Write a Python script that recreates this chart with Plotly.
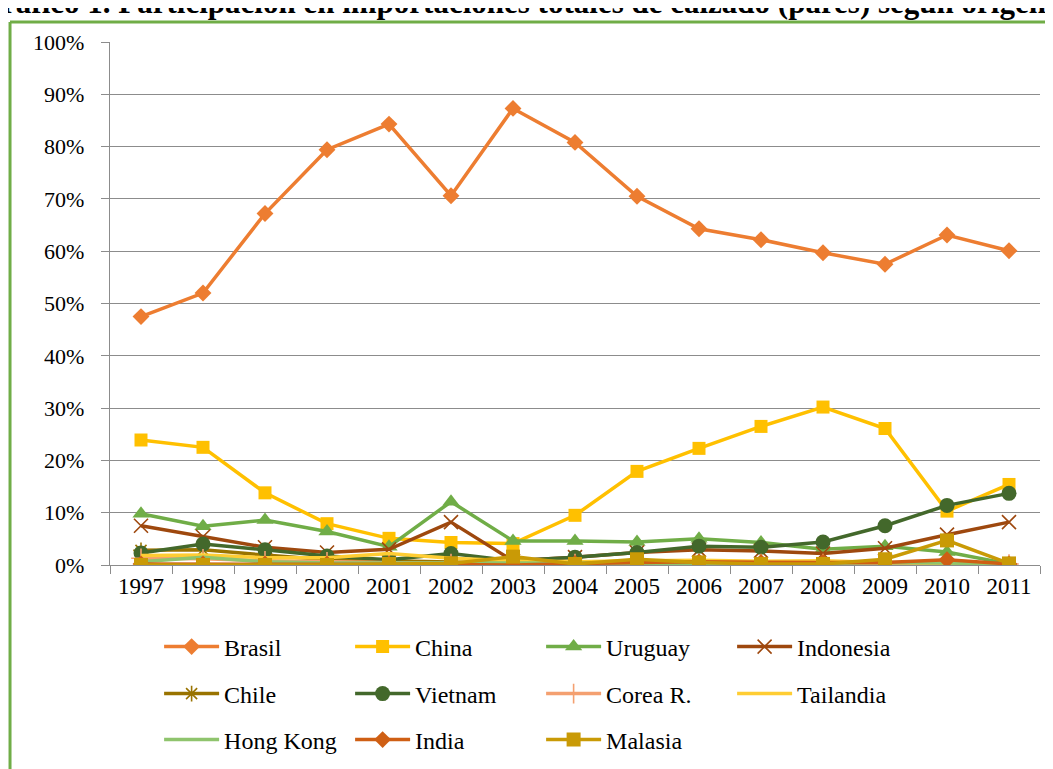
import plotly.graph_objects as go

years = [str(y) for y in range(1997, 2012)]

brasil = [47.5, 52.0, 67.2, 79.4, 84.3, 70.6, 87.3, 80.8, 70.5, 64.3, 62.2, 59.7, 57.5, 63.1, 60.1]
china = [23.9, 22.5, 13.8, 7.9, 5.1, 4.3, 4.1, 9.5, 17.9, 22.3, 26.5, 30.2, 26.1, 10.3, 15.4]
uruguay = [9.8, 7.4, 8.6, 6.4, 3.5, 12.1, 4.6, 4.6, 4.4, 5.0, 4.3, 3.0, 3.6, 2.5, 0.2]
indonesia = [7.5, 5.4, 3.4, 2.4, 3.0, 8.2, 0.8, 1.5, 2.4, 2.9, 2.7, 2.2, 3.2, 5.8, 8.2]
chile = [2.8, 2.9, 1.9, 1.0, 0.8, 0.5, 0.3, 0.3, 0.2, 0.2, 0.2, 0.2, 0.2, 0.2, 0.2]
vietnam = [2.3, 4.0, 2.9, 1.7, 1.0, 2.2, 0.8, 1.5, 2.4, 3.6, 3.4, 4.4, 7.5, 11.4, 13.7]
corea = [1.3, 1.2, 0.8, 0.6, 0.5, 0.3, 0.2, 0.3, 0.3, 0.3, 0.3, 0.3, 0.3, 0.3, 0.2]
tailandia = [1.8, 1.9, 1.4, 1.4, 2.2, 1.3, 0.8, 0.6, 0.8, 0.9, 0.7, 0.8, 0.5, 0.3, 0.2]
hongkong = [0.6, 1.5, 0.6, 0.4, 0.4, 0.4, 0.4, 0.3, 0.3, 0.3, 0.3, 0.3, 0.5, 0.4, 0.1]
india = [0.2, 0.2, 0.2, 0.2, 0.2, 0.1, 0.0, 0.3, 0.5, 0.6, 0.5, 0.5, 0.5, 1.0, 0.2]
malasia = [0.0, 0.0, 0.0, 0.0, 0.2, 0.3, 1.6, 0.2, 1.1, 0.5, 0.2, 0.2, 1.1, 4.7, 0.3]

title_text = "Gráfico 1. Participación en importaciones totales de calzado (pares) según origen"

FONT = "Liberation Serif"
series = [
    # name, values, color, symbol, size, legend
    ("Brasil", brasil, "#ED7D31", "diamond", 13, "legend"),
    ("China", china, "#FFC000", "square", 13, "legend"),
    ("Uruguay", uruguay, "#70AD47", "triangle-up", 15, "legend"),
    ("Indonesia", indonesia, "#9E480E", "x-thin", 14, "legend"),
    ("Chile", chile, "#997300", "asterisk", 13, "legend2"),
    ("Vietnam", vietnam, "#43682B", "circle", 15, "legend2"),
    ("Corea R.", corea, "#F4A070", "cross-thin", 14, "legend2"),
    ("Tailandia", tailandia, "#FFCD33", None, 0, "legend2"),
    ("Hong Kong", hongkong, "#8FC46D", None, 0, "legend3"),
    ("India", india, "#CF5F14", "diamond", 13, "legend3"),
    ("Malasia", malasia, "#C99A06", "square", 14, "legend3"),
]

fig = go.Figure()
for name, vals, color, sym, size, leg in series:
    if sym is None:
        mode = "lines"
        marker = dict()
    else:
        mode = "lines+markers"
        if sym in ("x-thin", "asterisk", "cross-thin"):
            marker = dict(symbol=sym, size=size, color=color,
                          line=dict(color=color, width=1.6))
        else:
            marker = dict(symbol=sym, size=size, color=color, line=dict(width=0))
    fig.add_trace(go.Scatter(
        x=years, y=vals, name=name, mode=mode,
        line=dict(color=color, width=3.5),
        marker=marker, legend=leg,
    ))

leg_common = dict(orientation="h", xref="container", yref="container",
                  xanchor="left", x=0.1435, yanchor="middle",
                  entrywidth=121, entrywidthmode="pixels",
                  font=dict(family=FONT, size=24, color="#000000"),
                  bgcolor="rgba(0,0,0,0)", itemwidth=55, traceorder="normal")

fig.update_layout(
    width=1053, height=769,
    margin=dict(l=102, r=21, t=34, b=212, autoexpand=False),
    paper_bgcolor="white", plot_bgcolor="white",
    font=dict(family=FONT, size=22, color="#000000"),
    legend=dict(**leg_common, y=1 - 639 / 769),
    legend2=dict(**leg_common, y=1 - 686 / 769),
    legend3=dict(**leg_common, y=1 - 732 / 769),
    xaxis=dict(type="category", showgrid=False, showline=True, linecolor="#8C8C8C",
               linewidth=1.3, ticks="outside", tickson="boundaries", ticklen=8,
               tickcolor="#8C8C8C", tickfont=dict(family=FONT, size=23, color="#000"),
               range=[-0.5, 14.5], automargin=False),
    yaxis=dict(range=[0, 100], dtick=10, ticksuffix="%", showgrid=True,
               gridcolor="#8C8C8C", gridwidth=1.3, showline=True, linecolor="#8C8C8C",
               linewidth=1.3, ticks="outside", ticklen=8, tickcolor="#8C8C8C",
               zeroline=False, ticklabelstandoff=12, automargin=False,
               tickfont=dict(family=FONT, size=22, color="#000")),
    shapes=[
        dict(type="line", xref="paper", yref="paper", x0=-0.1075, x1=-0.1075,
             y0=1.0382, y1=-0.45, line=dict(color="#70AD47", width=3)),
        dict(type="line", xref="paper", yref="paper", x0=-0.1075, x1=1.1,
             y0=1.0382, y1=1.0382, line=dict(color="#70AD47", width=3)),
    ],
    annotations=[
        dict(text="<b>" + title_text + "</b>", xref="paper", yref="paper",
             x=-0.144, y=1.0385, xanchor="left", yanchor="bottom", showarrow=False,
             font=dict(family=FONT, size=31, color="#000000")),
    ],
)

fig.write_html("out.html")
